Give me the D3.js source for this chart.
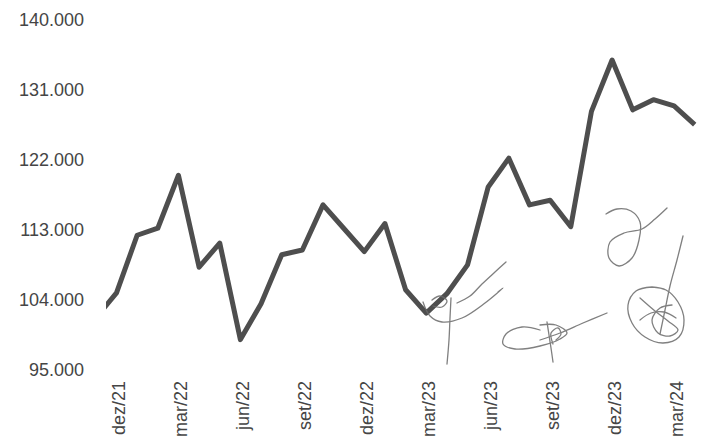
<!DOCTYPE html>
<html>
<head>
<meta charset="utf-8">
<script src="https://cdn.jsdelivr.net/npm/d3@7"></script>
<style>
  html, body { margin: 0; padding: 0; background: #fff; }
  svg { display: block; }
  text { font-family: "Liberation Sans", Arial, sans-serif; fill: #454545; }
</style>
</head>
<body>
<svg id="chart" width="704" height="444"></svg>
<script>
// Monthly series, nov/21 – abr/24
const months = [
  "nov/21","dez/21","jan/22","fev/22","mar/22","abr/22","mai/22","jun/22","jul/22","ago/22",
  "set/22","out/22","nov/22","dez/22","jan/23","fev/23","mar/23","abr/23","mai/23","jun/23",
  "jul/23","ago/23","set/23","out/23","nov/23","dez/23","jan/24","fev/24","mar/24","abr/24"
];
const values = [
  101700, 104900, 112300, 113200, 120000, 108200, 111300, 98900, 103500, 109800,
  110400, 116200, 113200, 110200, 113800, 105300, 102300, 104800, 108500, 118500,
  122200, 116200, 116800, 113400, 128200, 134800, 128400, 129700, 128900, 126500
];
const xTickLabels = ["dez/21","mar/22","jun/22","set/22","dez/22","mar/23","jun/23","set/23","dez/23","mar/24"];
const yTickValues = [95000, 104000, 113000, 122000, 131000, 140000];

const svg = d3.select("#chart");
const width = 704, height = 444;
const margin = { top: 19.5, right: 9.3, bottom: 74, left: 95.85 };
const plotLeft = 106;

const x = d3.scalePoint()
  .domain(months)
  .range([margin.left, width - margin.right]);

const y = d3.scaleLinear()
  .domain([95000, 140000])
  .range([height - margin.bottom, margin.top]);

const fmt = d3.formatLocale({ decimal: ",", thousands: ".", grouping: [3], currency: ["R$", ""] }).format(",d");

// Plot area clip (series starts inside the frame)
svg.append("defs").append("clipPath").attr("id", "plot-clip")
  .append("rect")
  .attr("x", plotLeft).attr("y", 0)
  .attr("width", width - plotLeft).attr("height", height);

// Y axis: labels only
const yAxis = d3.axisLeft(y).tickValues(yTickValues).tickFormat(fmt).tickSize(0).tickPadding(0);
const gy = svg.append("g").attr("transform", "translate(84,0)").call(yAxis);
gy.select(".domain").remove();
gy.selectAll("text")
  .style("font-family", '"Liberation Sans", Arial, sans-serif')
  .style("font-size", "18px")
  .attr("fill", "#454545");

// X axis: rotated month labels every quarter
const xAxis = d3.axisBottom(x).tickValues(xTickLabels).tickSize(0).tickPadding(0);
const gx = svg.append("g").attr("transform", "translate(2,381)").call(xAxis);
gx.select(".domain").remove();
gx.selectAll("text")
  .style("font-family", '"Liberation Sans", Arial, sans-serif')
  .style("font-size", "18px")
  .attr("fill", "#454545")
  .attr("text-anchor", "end")
  .attr("transform", "rotate(-90)")
  .attr("x", 0)
  .attr("y", 0)
  .attr("dy", "0.35em");

// Series line
const line = d3.line()
  .x((d, i) => x(months[i]))
  .y(d => y(d));

svg.append("path")
  .datum(values)
  .attr("clip-path", "url(#plot-clip)")
  .attr("fill", "none")
  .attr("stroke", "#4e4e4e")
  .attr("stroke-width", 5)
  .attr("stroke-linejoin", "round")
  .attr("stroke-linecap", "butt")
  .attr("d", line);

// Handwritten initials in pen over the printout
const initials = [
  [[423,302],[430,316],[442,322],[462,318],[485,303],[503,288],[498,292]],
  [[457,303],[470,296],[482,284],[495,272],[506,262]],
  [[451,298],[450,318],[449,340],[447,364]],
  [[432,300],[440,296],[447,301],[442,307],[433,306]],
  [[540,330],[522,327],[506,334],[503,344],[515,349],[540,346],[560,339],[567,333],[556,325],[540,325]],
  [[540,340],[560,333],[583,323],[607,313]],
  [[547,322],[549,335],[551,348],[553,362]],
  [[556,340],[561,334],[558,328],[551,333],[553,344]],
  [[606,214],[617,209],[631,211],[640,222],[639,240],[632,258],[619,266],[609,258],[610,242],[624,233],[642,229],[655,219],[667,208]],
  [[652,287],[636,291],[628,305],[632,323],[645,337],[663,343],[679,337],[684,320],[678,302],[666,290],[652,287]],
  [[683,236],[677,260],[670,286],[665,310],[660,334]],
  [[640,298],[655,311],[668,321],[678,330],[670,336],[658,333],[652,320],[660,308],[672,305]],
  [[640,320],[651,313],[664,312],[676,318]]
];
const pen = d3.line().curve(d3.curveCatmullRom.alpha(0.5));
svg.append("g")
  .attr("fill", "none")
  .attr("stroke", "#6a6a6a")
  .attr("stroke-width", 1.3)
  .attr("stroke-linecap", "round")
  .attr("opacity", 0.85)
  .selectAll("path")
  .data(initials)
  .join("path")
  .attr("d", pen);
</script>
</body>
</html>
